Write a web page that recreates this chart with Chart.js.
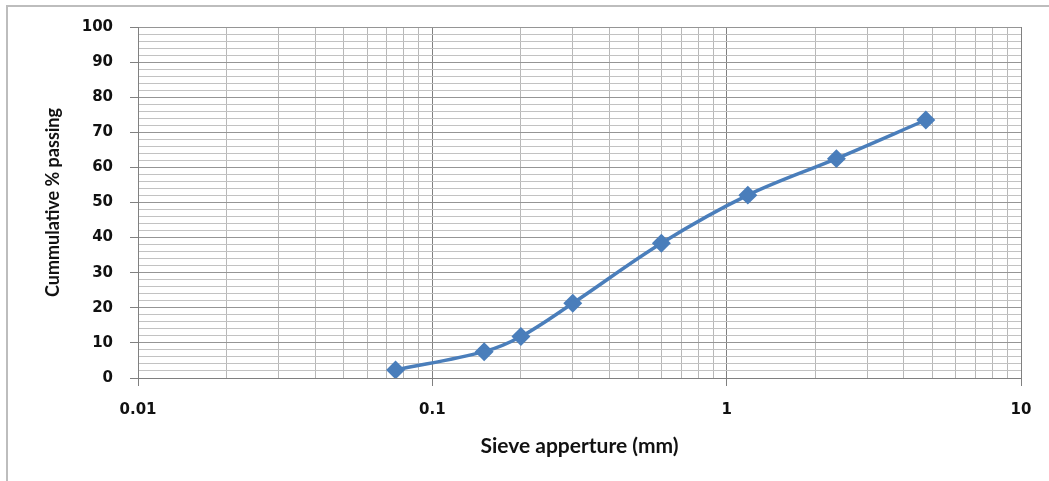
<!DOCTYPE html>
<html>
<head>
<meta charset="utf-8">
<script src="https://cdn.jsdelivr.net/npm/chart.js@4.4.1/dist/chart.umd.min.js"></script>
<style>
html, body { margin: 0; padding: 0; background: #fff; overflow: hidden; }
#wrap { position: relative; width: 1049px; height: 481px; }
#frame { position: absolute; left: 6px; top: 5px; width: 1100px; height: 520px; border-left: 2px solid #bdbdbd; border-top: 2px solid #bdbdbd; }
canvas { position: absolute; left: 0; top: 0; }
</style>
</head>
<body>
<div id="wrap"><div id="frame"></div><canvas id="gradingChart" width="1049" height="481"></canvas></div>
<script>
// sieve analysis - grading curve
var sieveSizes = [0.075, 0.15, 0.2, 0.3, 0.6, 1.18, 2.36, 4.75];
var passing = [2.3, 7.5, 11.8, 21.3, 38.4, 52.1, 62.5, 73.5];
var xDecades = [0.01, 0.1, 1, 10];
var xTickLabels = ['0.01', '0.1', '1', '10'];
var yTickLabels = ['0', '10', '20', '30', '40', '50', '60', '70', '80', '90', '100'];

var xGridValues = [];
for (var d = 0; d < xDecades.length - 1; d++) {
	for (var k = 1; k <= 9; k++) {
		xGridValues.push(k == 1 ? xDecades[d] : k * xDecades[d]);
	}
}
xGridValues.push(xDecades[xDecades.length - 1]);

var points = sieveSizes.map(function(s, i) { return {x: s, y: passing[i]}; });

var tickFont = {family: 'DejaVu Sans', weight: 'bold', size: 15};

var ctx = document.getElementById('gradingChart').getContext('2d');
var gradingChart = new Chart(ctx, {
	type: 'line',
	data: {
		datasets: [{
			label: 'Cummulative % passing',
			data: points,
			borderColor: '#4a7ebb',
			backgroundColor: '#4a7ebb',
			borderWidth: 3.5,
			tension: 0.35,
			pointStyle: 'rectRot',
			pointRadius: 7,
			pointHoverRadius: 7,
			fill: false
		}]
	},
	options: {
		responsive: false,
		animation: false,
		devicePixelRatio: 1,
		layout: {padding: {left: 40, right: 28, top: 27, bottom: 20}},
		plugins: {legend: {display: false}, tooltip: {enabled: false}},
		scales: {
			x: {
				type: 'logarithmic',
				min: 0.01,
				max: 10,
				afterBuildTicks: function(scale) {
					scale.ticks = xGridValues.map(function(v) { return {value: v}; });
				},
				afterFit: function(scale) { scale.height = 83; },
				border: {color: '#808080', width: 1},
				grid: {
					color: function(c) { return xDecades.indexOf(c.tick.value) >= 0 ? '#808080' : '#b8b8b8'; },
					tickColor: function(c) { return xDecades.indexOf(c.tick.value) >= 0 ? '#808080' : 'rgba(0,0,0,0)'; },
					tickLength: 8,
					lineWidth: 1
				},
				ticks: {
					autoSkip: false,
					maxRotation: 0,
					padding: 15,
					color: '#111111',
					font: tickFont,
					callback: function(value) {
						var i = xDecades.indexOf(value);
						return i >= 0 ? xTickLabels[i] : '';
					}
				},
				title: {
					display: true,
					text: 'Sieve apperture (mm)',
					color: '#111111',
					font: {family: 'Lato', weight: 'bold', size: 21},
					padding: {top: 0, bottom: 2}
				}
			},
			y: {
				min: 0,
				max: 100,
				afterFit: function(scale) { scale.width = 98; },
				border: {color: '#808080', width: 1},
				grid: {
					color: function(c) { return c.tick.value % 10 == 0 ? '#959595' : '#c2c2c2'; },
					tickColor: function(c) { return c.tick.value % 10 == 0 ? '#808080' : 'rgba(0,0,0,0)'; },
					tickLength: 8,
					lineWidth: 1
				},
				ticks: {
					stepSize: 2,
					autoSkip: false,
					padding: 17,
					color: '#111111',
					font: tickFont,
					callback: function(value) {
						return value % 10 == 0 ? yTickLabels[value / 10] : '';
					}
				},
				title: {
					display: true,
					text: 'Cummulative % passing',
					color: '#111111',
					font: {family: 'Lato', weight: 'bold', size: 18},
					padding: {top: 2, bottom: 0}
				}
			}
		}
	}
});
</script>
</body>
</html>
